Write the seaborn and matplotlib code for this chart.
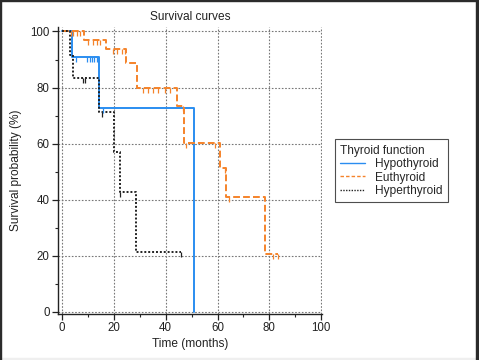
import numpy as np
import pandas as pd
import matplotlib
matplotlib.use("Agg")
import matplotlib.pyplot as plt
from matplotlib.path import Path
from matplotlib.patches import Rectangle
from matplotlib.lines import Line2D
import seaborn as sns

# ---- data ----
groups = ["Hypothyroid", "Euthyroid", "Hyperthyroid"]

hypo_t = [0, 4.0, 14.3, 51.0, 51.0]
hypo_s = [100, 90.9, 72.7, 0, 0]
hypo_cens_t = [5.3, 9.5, 10.8, 11.7, 12.4, 13.4, 15.9]
hypo_cens_s = [90.9, 90.9, 90.9, 90.9, 90.9, 90.9, 72.7]

eu_t = [0, 8.6, 17.2, 24.9, 28.8, 44.5, 47.2, 60.9, 63.2, 78.2, 83.4]
eu_s = [100, 97.0, 93.6, 88.9, 79.7, 73.3, 60.1, 51.2, 41.1, 20.7, 20.7]
eu_cens_t = [3.5, 4.4, 5.7, 6.9, 10.0, 12.0, 13.5, 14.6, 19.8, 21.1, 23.0, 24.3,
             31.3, 33.3, 35.2, 37.1, 39.7, 41.6, 46.8, 48.0, 59.0, 62.8, 64.5, 81.4, 83.4]
eu_cens_s = [100, 100, 100, 100, 97.0, 97.0, 97.0, 97.0, 93.6, 93.6, 93.6, 93.6,
             79.7, 79.7, 79.7, 79.7, 79.7, 79.7, 73.3, 60.1, 60.1, 51.2, 41.1, 20.7, 20.7]

hyper_t = [0, 3.1, 4.4, 14.3, 20.0, 22.4, 28.4, 46.1]
hyper_s = [100, 91.7, 83.3, 71.4, 57.1, 42.9, 21.4, 21.4]
hyper_cens_t = [8.2, 8.9, 15.3, 22.6, 46.1]
hyper_cens_s = [83.3, 83.3, 71.4, 42.9, 21.4]

xticks = [0, 20, 40, 60, 80, 100]
yticks = [0, 20, 40, 60, 80, 100]

colors = {"Hypothyroid": "#2a8df0", "Euthyroid": "#f5832a", "Hyperthyroid": "#222222"}
dashes = {"Hypothyroid": "", "Euthyroid": (3.5, 1.6), "Hyperthyroid": (1, 1)}

df = pd.concat([
    pd.DataFrame({"time": hypo_t, "surv": hypo_s, "group": "Hypothyroid"}),
    pd.DataFrame({"time": eu_t, "surv": eu_s, "group": "Euthyroid"}),
    pd.DataFrame({"time": hyper_t, "surv": hyper_s, "group": "Hyperthyroid"}),
], ignore_index=True)

cens = pd.concat([
    pd.DataFrame({"time": hypo_cens_t, "surv": hypo_cens_s, "group": "Hypothyroid"}),
    pd.DataFrame({"time": eu_cens_t, "surv": eu_cens_s, "group": "Euthyroid"}),
    pd.DataFrame({"time": hyper_cens_t, "surv": hyper_cens_s, "group": "Hyperthyroid"}),
], ignore_index=True)

sns.set_style("white")
plt.rcParams["font.family"] = ["Liberation Sans", "DejaVu Sans"]

fig = plt.figure(figsize=(4.79, 3.60), dpi=100)
ax = fig.add_axes([0.121, 0.128, 0.552, 0.797])

sns.lineplot(data=df, x="time", y="surv", hue="group", style="group",
             hue_order=groups, style_order=groups, palette=colors, dashes=dashes,
             drawstyle="steps-post", estimator=None, sort=False, linewidth=1.4,
             ax=ax, legend=False, zorder=3)

tick_marker = Path([(0, 0), (0, -1)], [Path.MOVETO, Path.LINETO])
for g in groups:
    sub = cens[cens["group"] == g]
    ax.plot(sub["time"], sub["surv"], linestyle="none", marker=tick_marker,
            markersize=7.5, markeredgewidth=0.9, color=colors[g], zorder=4)

ax.set_xlim(-1.5, 100.4)
ax.set_ylim(-0.7, 101.6)
ax.set_xticks(xticks)
ax.set_yticks(yticks)
ax.set_xticks([10, 30, 50, 70, 90], minor=True)
ax.set_yticks([10, 30, 50, 70, 90], minor=True)
ax.tick_params(axis="both", which="major", direction="out", length=4, width=0.9,
               labelsize=8.3, colors="#222222", pad=2, left=True, bottom=True)
ax.tick_params(axis="both", which="minor", direction="out", length=2, width=0.8,
               left=True, bottom=True)
ax.grid(True, which="major", linestyle=(0, (1.5, 1.5)), color="#777777", linewidth=0.8)
ax.set_axisbelow(True)
for s in ["top", "right"]:
    ax.spines[s].set_visible(False)
for s in ["left", "bottom"]:
    ax.spines[s].set_color("#222222")
    ax.spines[s].set_linewidth(1.0)

ax.set_title("Survival curves", fontsize=8.6, color="#222222", pad=5)
ax.set_xlabel("Time (months)", fontsize=8.6, color="#222222", labelpad=3)
ax.set_ylabel("Survival probability (%)", fontsize=8.6, color="#222222", labelpad=6)

handles = [Line2D([], [], color=colors["Hypothyroid"], linewidth=1.0),
           Line2D([], [], color=colors["Euthyroid"], linewidth=1.0, linestyle=(0, (2.5, 1.5))),
           Line2D([], [], color="#222222", linewidth=1.0, linestyle=(0, (1, 1)))]
leg = ax.legend(handles, groups, title="Thyroid function", loc="upper left",
                bbox_to_anchor=(0.699, 0.613), bbox_transform=fig.transFigure,
                fontsize=8.6, title_fontsize=8.6, frameon=True, fancybox=False,
                edgecolor="#222222", handlelength=2.1, handletextpad=0.8,
                borderpad=0.45, labelspacing=0.12, borderaxespad=0)
leg._legend_box.align = "left"
leg.get_frame().set_linewidth(0.8)

# window-like border
fig.patches.append(Rectangle((0, 0), 1, 2 / 360, transform=fig.transFigure,
                             color="#efefef", zorder=0))
fig.patches.append(Rectangle((0, 1 - 1 / 360), 1, 1 / 360, transform=fig.transFigure,
                             color="#2b2b2b", zorder=5))
fig.patches.append(Rectangle((0, 0), 1.2 / 479, 1, transform=fig.transFigure,
                             color="#2b2b2b", zorder=5))
fig.patches.append(Rectangle((1 - 3 / 479, 0), 3 / 479, 1, transform=fig.transFigure,
                             color="#2b2b2b", zorder=5))

fig.savefig("out.png", dpi=100)
